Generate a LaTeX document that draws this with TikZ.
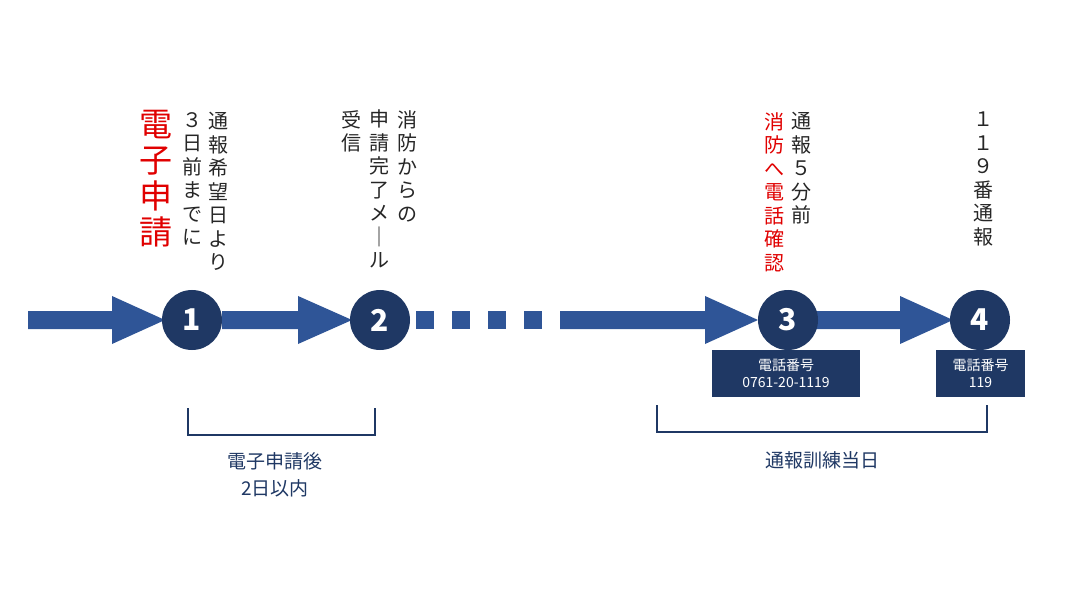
\documentclass[tikz,border=0pt]{standalone}
\usepackage{fontspec}
\setmainfont{Noto Sans CJK JP}
\definecolor{arr}{HTML}{2F5597}
\definecolor{navy}{HTML}{1F3864}
\definecolor{redt}{HTML}{E00000}
\begin{document}
\begin{tikzpicture}[x=1pt,y=-1pt,
  vt/.style={font=\fontsize{20}{23.5}\selectfont, align=center, anchor=north, inner sep=0pt, text=black!85},
  vbig/.style={font=\fontsize{33}{36}\selectfont, align=center, anchor=north, inner sep=0pt, text=redt},
  circ/.style={circle, fill=navy, minimum size=60pt, inner sep=0pt, text=white, font=\fontsize{30}{30}\selectfont\bfseries},
  tbox/.style={fill=navy, text=white, align=center, inner sep=0pt, font=\fontsize{14}{17}\selectfont},
  lab/.style={align=center, text=navy, font=\fontsize{19}{27}\selectfont},
  brk/.style={draw=navy, line width=2.2pt}]
\useasboundingbox (0,0) rectangle (1091,601);
% arrows
\fill[arr] (28,311) -- (112,311) -- (112,296) -- (165,320) -- (112,344) -- (112,329) -- (28,329) -- cycle;
\fill[arr] (222,311) -- (298,311) -- (298,296) -- (352,320) -- (298,344) -- (298,329) -- (222,329) -- cycle;
\fill[arr] (560,311) -- (705,311) -- (705,296) -- (758,320) -- (705,344) -- (705,329) -- (560,329) -- cycle;
\fill[arr] (816,311) -- (900,311) -- (900,296) -- (953,320) -- (900,344) -- (900,329) -- (816,329) -- cycle;
\foreach \x in {416,452,488,524} \fill[arr] (\x,311) rectangle (\x+18,329);
% circles
\node[circ] (c1) at (192,320) {1};
\node[circ] (c2) at (380,320) {2};
\node[circ] (c3) at (788,320) {3};
\node[circ] (c4) at (980,320) {4};
% vertical texts
\node[vbig] (t1a) at (156,110) {電\\子\\申\\請};
\node[vt] (t1b) at (218,112) {通\\報\\希\\望\\日\\よ\\り};
\node[vt] (t1c) at (192,112) {３\\日\\前\\ま\\で\\に};
\node[vt] (t2a) at (407,110) {消\\防\\か\\ら\\の};
\node[vt] (t2b) at (379,110) {申\\請\\完\\了\\メ\\｜\\ル};
\node[vt] (t2c) at (351,110) {受\\信};
\node[vt] (t3a) at (801,112) {通\\報\\５\\分\\前};
\node[vt,text=redt] (t3b) at (774,112) {消\\防\\へ\\電\\話\\確\\認};
\node[vt] (t4a) at (983,112) {１\\１\\９\\番\\通\\報};
% boxes
\node[tbox, minimum width=148pt, minimum height=47pt] (b3) at (786,373.5) {電話番号\\0761-20-1119};
\node[tbox, minimum width=89pt, minimum height=47pt] (b4) at (980.5,373.5) {電話番号\\119};
% brackets
\draw[brk] (188,408) -- (188,435) -- (375,435) -- (375,408);
\draw[brk] (657,405) -- (657,432) -- (987,432) -- (987,405);
\node[lab] (l1) at (275,475) {電子申請後\\2日以内};
\node[lab] (l2) at (822,460) {通報訓練当日};
\end{tikzpicture}
\end{document}
